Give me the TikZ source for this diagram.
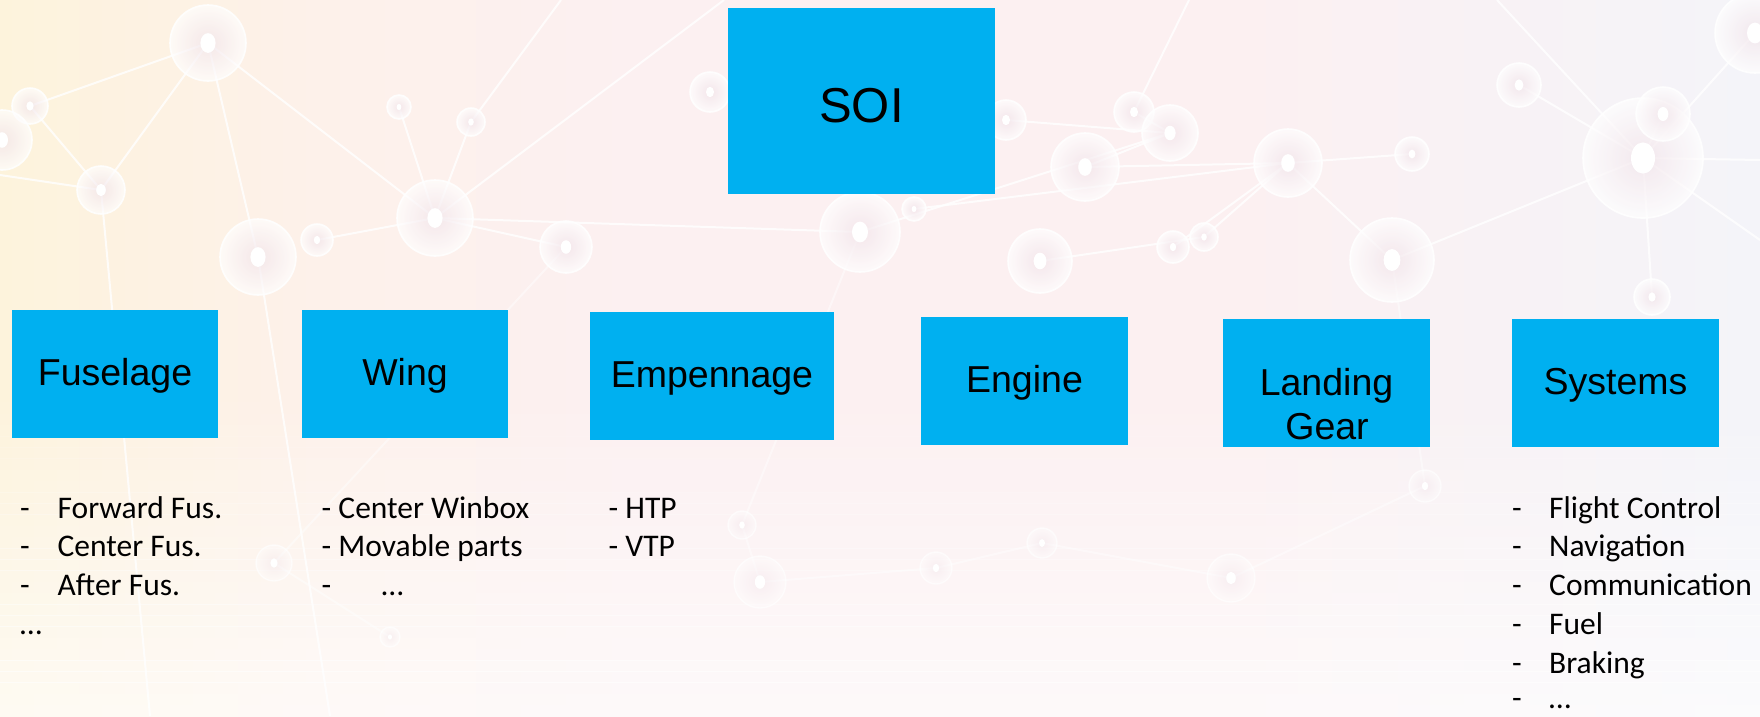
\documentclass[tikz,border=0pt]{standalone}
\usepackage{fontspec}
\setmainfont{Liberation Sans}
\newfontfamily\calfont{Carlito}

\definecolor{boxblue}{HTML}{00B0F0}
\definecolor{bgL}{HTML}{FDF3DC}
\definecolor{bgA}{HTML}{FDF1EA}
\definecolor{bgM}{HTML}{FCF0F1}
\definecolor{bgR}{HTML}{F4F4F9}
\definecolor{orbcore}{HTML}{F1E3E9}

% stops between 25bp and 75bp span the filled area
\pgfdeclarehorizontalshading{bgwash}{100bp}{color(0bp)=(bgL); color(25bp)=(bgL);
  color(34bp)=(bgA); color(43bp)=(bgM); color(60bp)=(bgM); color(75bp)=(bgR);
  color(100bp)=(bgR)}

\tikzset{
  blk/.style={fill=boxblue, draw=none, inner sep=0pt, text=black,
    font=\fontsize{37.5}{45}\selectfont, text height=30pt, text depth=7pt},
  blklabel/.style={anchor=base, inner sep=0pt, text=black,
    font=\fontsize{37.5}{45}\selectfont},
  lst/.style={anchor=base west, inner sep=0pt, text=black,
    font=\calfont\fontsize{31.5}{38}\selectfont},
  wire/.style={white, line width=2pt, opacity=0.8},
}

\begin{document}
\begin{tikzpicture}[x=1pt, y=-1pt]
\useasboundingbox (0,0) rectangle (1760,716);

% ---- soft background wash ----
\shade[shading=bgwash] (0,0) rectangle (1760,716);
\foreach \k in {0,...,29}
  \fill[white, opacity={0.022*\k}] (0,{380+11.2*\k}) rectangle (1760,{380+11.2*(\k+1)+0.5});

% ---- decorative network ----
\foreach \name/\px/\py in {
  a/208/43, b/30/106, c/101/190, d/258/257, e/317/240, f/435/218, g/566/247,
  h/399/107, i/471/122, j/710/92, k/860/232, l/1006/120, m/1134/112, n/1170/133,
  o/1085/167, p/1288/163, q/1412/154, r/914/209, s/1392/260, t/1173/247,
  u/1204/237, v/1040/261, w/1519/85, x/1643/158, y/1663/114, z/1755/33,
  aa/1652/297, ba/742/525, bb/760/582, bc/936/568, bd/1042/543, be/1231/578,
  bf/1425/486, bg/274/563, bh/390/637, bi/2/140,
  top1/724/0, top2/561/0, top3/1189/0, top4/1497/0, left1/0/175,
  bot1/150/716, bot2/330/716, right1/1760/160, right2/1760/240}
  \coordinate (orb-\name) at (\px,\py);

\foreach \u/\v in {a/b, a/d, a/f, a/c, b/c, left1/c, c/bot1, d/bot2, f/e, f/g, f/h, f/i,
  f/k, i/top2, f/top1, k/n, l/n, n/o, o/p, p/q, p/s, r/p, p/t, p/u, v/u,
  m/top3, n/m, w/x, x/y, x/z, x/aa, x/right1, x/right2, s/x, top4/x}
  \draw[wire] (orb-\u) -- (orb-\v);
\foreach \u/\v in {k/ba, ba/bb, bb/bc, bc/bd, bd/be, be/bf, bf/s, bg/bh, g/bg}
  \draw[wire, opacity=0.45] (orb-\u) -- (orb-\v);

\foreach \name/\r in {a/38, b/18, c/24, d/38, e/16, f/38, g/26, h/12, i/14, j/20,
  k/40, l/20, m/20, n/28, o/34, p/34, q/17, r/12, s/42, t/16, u/14, v/32,
  w/22, x/60, y/27, z/40, aa/18, bi/30}
{
  \shade[inner color=orbcore, outer color=white, opacity=0.7]
    (orb-\name) circle [radius=\r pt];
  \draw[white, line width=1.6pt, opacity=0.85] (orb-\name) circle [radius=\r pt];
  \fill[white] (orb-\name) ellipse [x radius=0.2*\r pt, y radius=0.26*\r pt];
}
\foreach \name/\r in {ba/14, bb/26, bc/16, bd/15, be/24, bf/16, bg/18, bh/10}
{
  \shade[inner color=orbcore, outer color=white, opacity=0.4]
    (orb-\name) circle [radius=\r pt];
  \draw[white, line width=1.4pt, opacity=0.6] (orb-\name) circle [radius=\r pt];
  \fill[white] (orb-\name) ellipse [x radius=0.2*\r pt, y radius=0.26*\r pt];
}

% ---- root ----
\node[blk, minimum width=267pt, minimum height=186pt,
  font=\fontsize{49}{58}\selectfont, text height=50pt, text depth=7pt]
  (soi) at (861.5,101) {SOI};

% ---- sub-systems ----
\node[blk, minimum width=206pt, minimum height=128pt] (fus) at (115,374) {Fuselage};
\node[blk, minimum width=206pt, minimum height=128pt] (wing) at (405,374) {Wing};
\node[blk, minimum width=244pt, minimum height=128pt] (emp) at (712,376) {Empennage};
\node[blk, minimum width=207pt, minimum height=128pt] (eng) at (1024.5,381) {Engine};
\node[blk, minimum width=207pt, minimum height=128pt] (lg) at (1326.5,383) {};
\node[blklabel] (lgA) at (1326.5,395) {Landing};
\node[blklabel] (lgB) at (1327,439) {Gear};
\node[blk, minimum width=207pt, minimum height=128pt] (sys) at (1615.5,383) {Systems};

% ---- Fuselage breakdown ----
\foreach \t [count=\i] in {Forward Fus., Center Fus., After Fus.}
{
  \node[lst] (fusd\i) at (20,{518+38.8*(\i-1)}) {-};
  \node[lst] (fust\i) at (57.5,{518+38.8*(\i-1)}) {\t};
}
\node[lst] (fusmore) at (20,634.5) {…};

% ---- Wing breakdown ----
\node[lst] (wing1) at (321.5,518) {- Center Winbox};
\node[lst] (wing2) at (321.5,556.8) {- Movable parts};
\node[lst] (wingd3) at (321.5,595.6) {-};
\node[lst] (wingt3) at (381.5,595.6) {…};

% ---- Empennage breakdown ----
\node[lst] (emp1) at (608.5,518) {- HTP};
\node[lst] (emp2) at (608.5,556.8) {- VTP};

% ---- Systems breakdown ----
\foreach \t [count=\i] in {Flight Control, Navigation, Communication, Fuel, Braking}
{
  \node[lst] (sysd\i) at (1512,{518+38.8*(\i-1)}) {-};
  \node[lst] (syst\i) at (1549,{518+38.8*(\i-1)}) {\t};
}
\node[lst] (sysd6) at (1512,708) {-};
\node[lst] (syst6) at (1549,708) {…};
\end{tikzpicture}
\end{document}
